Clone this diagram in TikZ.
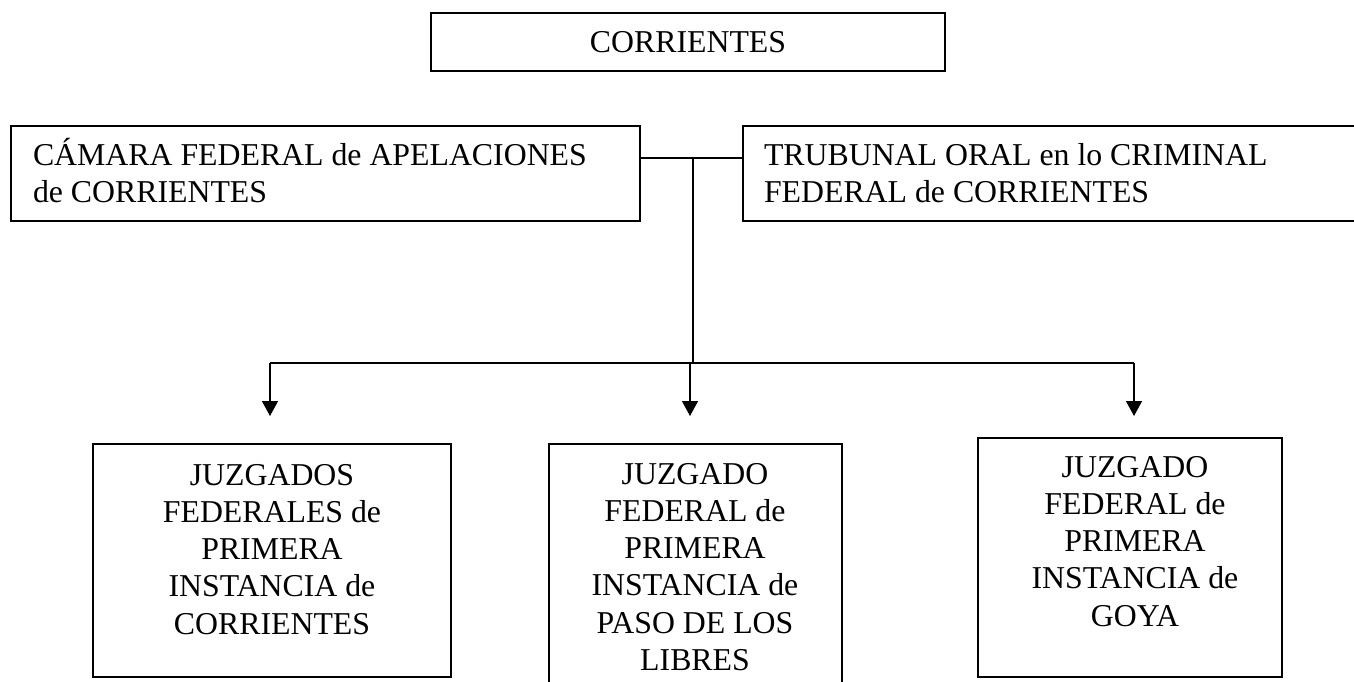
\documentclass[tikz,border=0pt]{standalone}
\usepackage{fontspec}
\setmainfont{Liberation Serif}
\usetikzlibrary{arrows.meta}
\newcommand\bigfnt{\fontsize{31.8}{37.3}\selectfont}
\begin{document}
\begin{tikzpicture}[x=1pt,y=-1pt,
  box/.style={draw,line width=1.6pt,inner sep=0pt,outer sep=0pt},
  txt/.style={inner sep=0pt,outer sep=0pt,anchor=base,font=\bigfnt},
  conn/.style={line width=1.3pt},
  arr/.style={conn,-{Triangle[length=15pt,width=16pt]}}]
\useasboundingbox (0,0) rectangle (1354,682);
\clip (0,0) rectangle (1354,682);
% boxes
\node[box,minimum width=514pt,minimum height=58pt] (top) at (688,42) {};
\node[box,minimum width=629pt,minimum height=95pt] (cam) at (325.5,173.5) {};
\node[box,minimum width=627pt,minimum height=95pt] (trib) at (1056.5,173.5) {};
\node[box,minimum width=358pt,minimum height=233pt] (b1) at (272,560.5) {};
\node[box,minimum width=293pt,minimum height=256pt] (b2) at (695.5,572) {};
\node[box,minimum width=304pt,minimum height=239pt] (b3) at (1130,557.5) {};
% texts
\node[txt] (ttop) at (top.center |- 0,53) {CORRIENTES};
\node[txt,anchor=base west] (tcam) at (33,165.5)
  {\begin{tabular}[t]{@{}l@{}}CÁMARA FEDERAL de APELACIONES\\de CORRIENTES\end{tabular}};
\node[txt,anchor=base west] (ttrib) at (764,165.5)
  {\begin{tabular}[t]{@{}l@{}}TRUBUNAL ORAL en lo CRIMINAL\\FEDERAL de CORRIENTES\end{tabular}};
\node[txt] (tb1) at (272,485)
  {\begin{tabular}[t]{@{}c@{}}JUZGADOS\\FEDERALES de\\PRIMERA\\INSTANCIA de\\CORRIENTES\end{tabular}};
\node[txt] (tb2) at (695,484)
  {\begin{tabular}[t]{@{}c@{}}JUZGADO\\FEDERAL de\\PRIMERA\\INSTANCIA de\\PASO DE LOS\\LIBRES\end{tabular}};
\node[txt] (tb3) at (1135,477)
  {\begin{tabular}[t]{@{}c@{}}JUZGADO\\FEDERAL de\\PRIMERA\\INSTANCIA de\\GOYA\end{tabular}};
% connectors
\coordinate (j) at (693,158);
\coordinate (k) at (693,363);
\coordinate (h1) at (270,363);
\coordinate (h2) at (690,363);
\coordinate (h3) at (1134,363);
\coordinate (t1) at (270,416);
\coordinate (t2) at (690,416);
\coordinate (t3) at (1134,416);
\draw[conn] (cam.east |- j) -- (trib.west |- j);
\draw[conn] (j) -- (k);
\draw[conn] (h1) -- (h3);
\draw[arr] (h1) -- (t1);
\draw[arr] (h2) -- (t2);
\draw[arr] (h3) -- (t3);
\end{tikzpicture}
\end{document}
